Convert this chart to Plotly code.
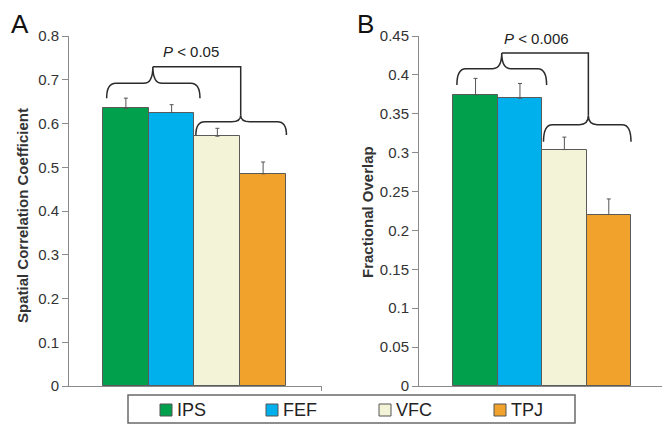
import plotly.graph_objects as go

# ---------------- data ----------------
regions = ["IPS", "FEF", "VFC", "TPJ"]
colors = ["#00A04D", "#00B0EC", "#F3F3D8", "#F1A22C"]

corr_values = [0.635, 0.625, 0.571, 0.485]
corr_errors = [0.023, 0.018, 0.018, 0.027]

overlap_values = [0.3745, 0.370, 0.304, 0.2205]
overlap_errors = [0.021, 0.019, 0.016, 0.020]

corr_ticks = [0, 0.1, 0.2, 0.3, 0.4, 0.5, 0.6, 0.7, 0.8]
overlap_ticks = [0, 0.05, 0.1, 0.15, 0.2, 0.25, 0.3, 0.35, 0.4, 0.45]

FONT = "Liberation Sans, Arial, sans-serif"
W, H = 662, 424
AX = "#8a8a8a"
LINE = "#2b2b2b"

xpos = list(range(len(regions)))

fig = go.Figure()


def add_bars(values, errors, xa, ya):
    fig.add_trace(go.Bar(
        x=xpos, y=values, width=1,
        marker=dict(color=colors, line=dict(color="#5a5a5a", width=1)),
        error_y=dict(type="data", symmetric=False, array=errors,
                     arrayminus=[0] * len(errors), color="#555555",
                     thickness=1, width=2),
        xaxis=xa, yaxis=ya, showlegend=False, hoverinfo="x+y",
    ))


add_bars(corr_values, corr_errors, "x", "y")
add_bars(overlap_values, overlap_errors, "x2", "y2")


def brace_path(x0, x1, xm, y_end, y_h, y_c, rx):
    return (f"M {x0},{y_end} Q {x0},{y_h} {x0 + rx},{y_h} "
            f"L {xm - rx},{y_h} Q {xm},{y_h} {xm},{y_c} "
            f"Q {xm},{y_h} {xm + rx},{y_h} "
            f"L {x1 - rx},{y_h} Q {x1},{y_h} {x1},{y_end}")


def add_braces(xr, yr, b1, b2, top_y, rx):
    # b = (x0, x1, xm, y_end, y_h, y_cusp)
    for b in (b1, b2):
        fig.add_shape(type="path", xref=xr, yref=yr,
                      path=brace_path(b[0], b[1], b[2], b[3], b[4], b[5], rx),
                      line=dict(color=LINE, width=1.5))
    # connector
    fig.add_shape(type="path", xref=xr, yref=yr,
                  path=f"M {b1[2]},{b1[5]} L {b2[2]},{top_y} L {b2[2]},{b2[5]}",
                  line=dict(color=LINE, width=1.5))


# Panel A braces (data units)
add_braces("x", "y",
           (-0.42, 1.62, 0.59, 0.658, 0.692, 0.730),
           (1.53, 3.51, 2.51, 0.574, 0.604, 0.619),
           0.730, 0.2)
# Panel B braces
add_braces("x2", "y2",
           (-0.42, 1.60, 0.59, 0.387, 0.408, 0.428),
           (1.53, 3.50, 2.54, 0.314, 0.336, 0.348),
           0.428, 0.2)

C = dict(xanchor="center", yanchor="middle", showarrow=False)
annotations = [
    dict(text="<i>P</i> < 0.05", x=1.42, y=0.764, xref="x", yref="y", **C,
         font=dict(family=FONT, size=15, color="#222")),
    dict(text="<i>P</i> < 0.006", x=1.38, y=0.447, xref="x2", yref="y2", **C,
         font=dict(family=FONT, size=15, color="#222")),
    dict(text="A", x=20 / W, y=1 - 24 / H, xref="paper", yref="paper", **C,
         font=dict(family=FONT, size=26, color="#111")),
    dict(text="B", x=365 / W, y=1 - 24 / H, xref="paper", yref="paper", **C,
         font=dict(family=FONT, size=26, color="#111")),
    dict(text="<b>Spatial Correlation Coefficient</b>", x=22 / W, y=1 - 216 / H,
         xref="paper", yref="paper", textangle=-90, **C,
         font=dict(family=FONT, size=15, color="#333")),
    dict(text="<b>Fractional Overlap</b>", x=367 / W, y=1 - 212 / H,
         xref="paper", yref="paper", textangle=-90, **C,
         font=dict(family=FONT, size=15, color="#333")),
]

# Manual legend
shapes_extra = [dict(type="rect", xref="paper", yref="paper",
                     x0=128 / W, x1=575 / W, y0=1 - 423 / H, y1=1 - 395 / H,
                     line=dict(color="#6a6a6a", width=1.5), fillcolor="white")]
sq_left = [160, 266, 379, 494]
for i, name in enumerate(regions):
    x0 = sq_left[i]
    shapes_extra.append(dict(type="rect", xref="paper", yref="paper",
                             x0=x0 / W, x1=(x0 + 12) / W,
                             y0=1 - 416 / H, y1=1 - 404 / H,
                             line=dict(color="#555", width=1), fillcolor=colors[i]))
    annotations.append(dict(text=name, x=(x0 + 15) / W, y=1 - 410 / H,
                            xref="paper", yref="paper", xanchor="left",
                            yanchor="middle", showarrow=False,
                            font=dict(family=FONT, size=18, color="#222")))
for s in shapes_extra:
    fig.add_shape(**s)

ydom = [1 - 386 / H, 1 - 36 / H]
yax_common = dict(showgrid=False, zeroline=False, showline=True, linecolor=AX,
                  linewidth=1, ticks="outside", ticklen=6, tickcolor=AX,
                  tickfont=dict(family=FONT, size=15, color="#333"),
                  domain=ydom, fixedrange=True, automargin=False)
xax_common = dict(showgrid=False, zeroline=False, showline=True, linecolor=AX,
                  linewidth=1, showticklabels=False, fixedrange=True,
                  automargin=False)

xr_a = [-1.243, 4.287]
xr_b = [-1.273, 4.198]

fig.update_layout(
    template="none",
    width=W, height=H,
    margin=dict(l=0, r=0, t=0, b=0, autoexpand=False),
    paper_bgcolor="white", plot_bgcolor="white",
    bargap=0,
    xaxis=dict(**xax_common, domain=[69 / W, 322 / W], range=xr_a,
               anchor="y", tickvals=[xr_a[1] - 0.001], ticks="outside",
               ticklen=4, tickcolor=AX),
    yaxis=dict(**yax_common, range=[0, 0.8], tickvals=corr_ticks, anchor="x"),
    xaxis2=dict(**xax_common, domain=[419 / W, 1.0], range=xr_b, anchor="y2"),
    yaxis2=dict(**yax_common, range=[0, 0.45], tickvals=overlap_ticks,
                anchor="x2"),
    annotations=annotations,
    font=dict(family=FONT),
)

fig.write_html("out.html", config={"displayModeBar": False},
               post_script="document.body.style.margin='0';"
                           "document.body.style.overflow='hidden';")
